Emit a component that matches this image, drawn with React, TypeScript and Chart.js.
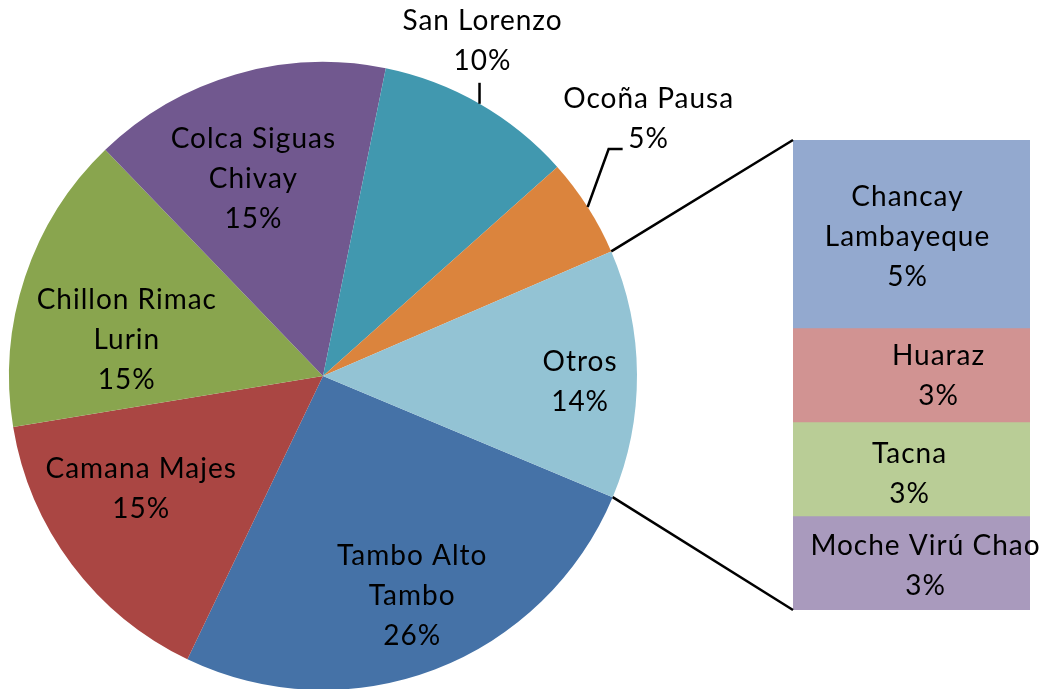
import React, { useEffect, useRef } from "react";
import { Chart, registerables } from "chart.js";

Chart.register(...registerables);

// ---- data ----
const pieCategories: string[][] = [
  ["Tambo Alto", "Tambo"],
  ["Camana Majes"],
  ["Chillon Rimac", "Lurin"],
  ["Colca Siguas", "Chivay"],
  ["San Lorenzo"],
  ["Ocoña Pausa"],
  ["Otros"],
];
const pieMainValues = [25.8, 15.3, 15.4, 15.4, 10.2, 5.1];
const piePctLabels = ["26%", "15%", "15%", "15%", "10%", "5%", "14%"];

const barCategories: string[][] = [
  ["Chancay", "Lambayeque"],
  ["Huaraz"],
  ["Tacna"],
  ["Moche Virú Chao"],
];
const barValues = [5.12, 2.56, 2.56, 2.56];
const barPctLabels = ["5%", "3%", "3%", "3%"];

// ---- styles ----
const pieColors = ["#4572A7", "#AA4643", "#89A54E", "#71588F", "#4198AF", "#DB843D", "#93C3D4"];
const barColors = ["#93A9CF", "#D19392", "#B9CD96", "#A99ABD"];
const FONT = "28px Lato";
const LETTER_SPACING = "1px";
const LINE_H = 40;
const LINE_W = 2.5;

type PieLabelStyle =
  | { inside: true; r: number; da: number }
  | { inside: false; dx: number; dy: number; leader: number[][] };

const pieLabelStyle: PieLabelStyle[] = [
  { inside: true, r: 0.756, da: -1.2 },
  { inside: true, r: 0.682, da: 5 },
  { inside: true, r: 0.635, da: -8.1 },
  { inside: true, r: 0.665, da: -3.3 },
  { inside: false, dx: 3, dy: -63, leader: [[0, 0], [0, -21]] },
  { inside: false, dx: 61, dy: -88, leader: [[0, 0], [21, -58], [35, -58]] },
  { inside: true, r: 0.819, da: 1.6 },
];
const barLabelStyle = [
  { dx: -4, dy: 3 },
  { dx: 27, dy: 1 },
  { dx: -2, dy: 5 },
  { dx: 14, dy: 3 },
];

const W = 1043;
const H = 700;

export default function App() {
  const pieRef = useRef<HTMLCanvasElement | null>(null);
  const barRef = useRef<HTMLCanvasElement | null>(null);

  useEffect(() => {
    if (!pieRef.current || !barRef.current) return;
    const otrosValue = barValues.reduce((a, b) => a + b, 0);
    const pieValues = [...pieMainValues, otrosValue];

    const setText = (ctx: CanvasRenderingContext2D) => {
      ctx.font = FONT;
      (ctx as any).letterSpacing = LETTER_SPACING;
      ctx.fillStyle = "#000";
      ctx.textAlign = "center";
      ctx.textBaseline = "middle";
    };
    const drawLines = (ctx: CanvasRenderingContext2D, lines: string[], cx: number, cy: number) => {
      lines.forEach((t, k) => ctx.fillText(t, cx, cy + (k - (lines.length - 1) / 2) * LINE_H));
    };

    const pieLabels = {
      id: "pieLabels",
      afterDatasetsDraw(chart: any) {
        const ctx: CanvasRenderingContext2D = chart.ctx;
        const meta = chart.getDatasetMeta(0);
        ctx.save();
        setText(ctx);
        ctx.strokeStyle = "#000";
        ctx.lineWidth = LINE_W;
        meta.data.forEach((arc: any, i: number) => {
          const { x, y, startAngle, endAngle, outerRadius } = arc.getProps(
            ["x", "y", "startAngle", "endAngle", "outerRadius"],
            true
          );
          const mid = (startAngle + endAngle) / 2;
          const st = pieLabelStyle[i];
          let cx: number, cy: number;
          if (st.inside) {
            const a = mid + (st.da * Math.PI) / 180;
            cx = x + Math.cos(a) * outerRadius * st.r;
            cy = y + Math.sin(a) * outerRadius * st.r;
          } else {
            const ax = x + Math.cos(mid) * outerRadius;
            const ay = y + Math.sin(mid) * outerRadius;
            ctx.beginPath();
            st.leader.forEach(([dx, dy], k) =>
              k ? ctx.lineTo(ax + dx, ay + dy) : ctx.moveTo(ax + dx, ay + dy)
            );
            ctx.stroke();
            cx = ax + st.dx;
            cy = ay + st.dy;
          }
          drawLines(ctx, [...pieCategories[i], piePctLabels[i]], cx, cy);
        });
        ctx.restore();
      },
    };

    const pie = new Chart(pieRef.current, {
      type: "pie",
      data: {
        labels: pieCategories.map((c) => c.join(" ")),
        datasets: [
          {
            data: pieValues,
            backgroundColor: pieColors,
            borderWidth: 0,
          },
        ],
      },
      options: {
        responsive: false,
        animation: false,
        devicePixelRatio: 1,
        rotation: 112.7,
        layout: { padding: { left: 9, top: 62, right: W - 637, bottom: H - 690 } },
        plugins: { legend: { display: false }, tooltip: { enabled: false } },
        events: [],
      },
      plugins: [pieLabels],
    });

    const barLabels = {
      id: "barLabels",
      afterDatasetsDraw(chart: any) {
        const ctx: CanvasRenderingContext2D = chart.ctx;
        ctx.save();
        setText(ctx);
        chart.data.datasets.forEach((_: any, i: number) => {
          const el = chart.getDatasetMeta(i).data[0];
          const { x, y, base } = el.getProps(["x", "y", "base"], true);
          drawLines(
            ctx,
            [...barCategories[i], barPctLabels[i]],
            x + barLabelStyle[i].dx,
            (y + base) / 2 + barLabelStyle[i].dy
          );
        });
        // connector lines from the "Otros" slice to the bar
        const arc: any = pie.getDatasetMeta(0).data[pieValues.length - 1];
        const p = arc.getProps(["x", "y", "startAngle", "endAngle", "outerRadius"], true);
        const first: any = chart.getDatasetMeta(0).data[0];
        const last: any = chart.getDatasetMeta(barValues.length - 1).data[0];
        const f = first.getProps(["x", "y", "base", "width"], true);
        const l = last.getProps(["x", "y", "base", "width"], true);
        ctx.strokeStyle = "#000";
        ctx.lineWidth = LINE_W;
        ctx.beginPath();
        ctx.moveTo(p.x + Math.cos(p.startAngle) * p.outerRadius, p.y + Math.sin(p.startAngle) * p.outerRadius);
        ctx.lineTo(f.x - f.width / 2, Math.min(f.y, f.base));
        ctx.moveTo(p.x + Math.cos(p.endAngle) * p.outerRadius, p.y + Math.sin(p.endAngle) * p.outerRadius);
        ctx.lineTo(l.x - l.width / 2, Math.max(l.y, l.base));
        ctx.stroke();
        ctx.restore();
      },
    };

    const bar = new Chart(barRef.current, {
      type: "bar",
      data: {
        labels: ["Otros"],
        datasets: barValues.map((v, i) => ({
          label: barCategories[i].join(" "),
          data: [v],
          backgroundColor: barColors[i],
          borderWidth: 0,
          barPercentage: 1,
          categoryPercentage: 1,
        })),
      },
      options: {
        responsive: false,
        animation: false,
        devicePixelRatio: 1,
        layout: { padding: { left: 793, top: 140, right: W - 1030, bottom: H - 610 } },
        scales: {
          x: { stacked: true, display: false },
          y: { stacked: true, display: false, reverse: true, min: 0, max: otrosValue },
        },
        plugins: { legend: { display: false }, tooltip: { enabled: false } },
        events: [],
      },
      plugins: [barLabels],
    });

    return () => {
      bar.destroy();
      pie.destroy();
    };
  }, []);

  return (
    <div
      style={{
        position: "fixed",
        left: 0,
        top: 0,
        width: W,
        height: 689,
        overflow: "hidden",
        background: "#fff",
      }}
    >
      <canvas ref={pieRef} width={W} height={H} style={{ position: "absolute", left: 0, top: 0 }} />
      <canvas ref={barRef} width={W} height={H} style={{ position: "absolute", left: 0, top: 0 }} />
    </div>
  );
}
